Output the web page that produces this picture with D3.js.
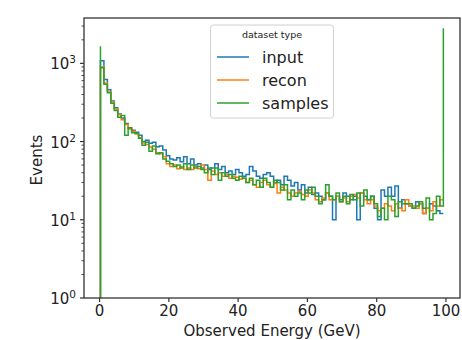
<!DOCTYPE html>
<html><head><meta charset="utf-8">
<script src="https://cdn.jsdelivr.net/npm/d3@7"></script>
<style>body{margin:0;background:#fff}svg{display:block;font-family:"DejaVu Sans",sans-serif}</style>
</head><body><svg id="c" width="462" height="340"></svg>
<script>
// bin left edges (GeV), width 1
const binEdges = [0.4,1.4,2.4,3.4,4.4,5.4,6.4,7.4,8.4,9.4,10.4,11.4,12.4,13.4,14.4,15.4,16.4,17.4,18.4,19.4,
20.4,21.4,22.4,23.4,24.4,25.4,26.4,27.4,28.4,29.4,30.4,31.4,32.4,33.4,34.4,35.4,36.4,37.4,38.4,39.4,
40.4,41.4,42.4,43.4,44.4,45.4,46.4,47.4,48.4,49.4,50.4,51.4,52.4,53.4,54.4,55.4,56.4,57.4,58.4,59.4,
60.4,61.4,62.4,63.4,64.4,65.4,66.4,67.4,68.4,69.4,70.4,71.4,72.4,73.4,74.4,75.4,76.4,77.4,78.4,79.4,
80.4,81.4,82.4,83.4,84.4,85.4,86.4,87.4,88.4,89.4,90.4,91.4,92.4,93.4,94.4,95.4,96.4,97.4,98.4,99.4];
const seriesNames = ["input","recon","samples"];
const inputCounts = [1080,620,460,330,270,225,200,170,150,140,132,120,100,104,95,98,86,88,78,66,
60,58,62,55,64,52,60,50,52,46,50,44,46,52,44,48,40,42,38,44,
40,36,38,48,42,36,34,38,40,36,30,32,28,36,32,27,30,24,28,22,
26,21,22,20,18,22,20,10,20,18,22,20,18,20,10,22,20,18,20,14,
10,24,20,26,20,27,14,18,16,15,14,17,16,12,14,16,15,13,12];
const reconCounts = [900,560,430,320,260,220,190,165,145,135,125,112,96,92,85,80,72,70,64,52,
48,50,45,48,44,46,44,48,45,50,44,32,42,38,40,36,38,34,36,35,
33,34,30,32,28,26,30,32,28,26,29,22,26,24,22,20,22,23,21,20,
24,22,18,17,19,22,18,18,20,17,19,17,20,21,19,22,18,16,18,15,
13,14,16,15,13,16,14,13,18,15,15,14,16,12,14,13,17,15,18];
const samplesCounts = [880,540,420,310,250,205,215,120,150,130,128,110,90,98,75,88,70,72,60,56,
52,48,50,46,52,44,50,46,48,44,40,46,38,46,32,40,36,38,34,32,
36,34,30,34,28,32,26,34,30,26,32,30,24,28,18,24,20,22,18,24,
22,26,20,16,18,28,20,18,22,17,20,16,21,18,22,15,24,18,20,16,
11,14,10,20,18,11,17,16,16,16,14,15,17,14,19,10,12,20,15];
const samplesSpikes = [1650, 2800]; // first and last edge spikes
const xTicks = [0,20,40,60,80,100];
const yTicks = [1,10,100,1000];
const colors = ["#1f77b4","#ff7f0e","#2ca02c"];

const svg = d3.select("#c");
const L=84,R=460,T=18,B=298;
const x = d3.scaleLinear().domain([-4.35,104.2]).range([L,R]);
const y = d3.scaleLog().domain([1,3800]).range([B,T]);

svg.append("defs").append("clipPath").attr("id","clip").append("rect")
  .attr("x",L).attr("y",T).attr("width",R-L).attr("height",B-T);

const line = d3.line().x(d=>x(d[0])).y(d=>y(d[1])).curve(d3.curveStepAfter);
const all = [inputCounts, reconCounts, samplesCounts];
const g = svg.append("g").attr("clip-path","url(#clip)");
all.forEach((counts,k)=>{
  const pts = [[binEdges[0],1]];
  if (k===2) pts.push([binEdges[0], samplesSpikes[0]]);
  counts.forEach((c,i)=>pts.push([binEdges[i],c]));
  const lastE = binEdges[counts.length];
  pts.push([lastE, counts[counts.length-1]]);
  if (k===2) pts.push([lastE, samplesSpikes[1]]);
  g.append("path").attr("d",line(pts)).attr("fill","none")
    .attr("stroke",colors[k]).attr("stroke-width",1.5).attr("stroke-linejoin","miter");
});

// axes
const xAxis = svg.append("g").attr("transform",`translate(0,${B})`)
  .call(d3.axisBottom(x).tickValues(xTicks).tickSize(4).tickPadding(3).tickFormat(d3.format("d")));
xAxis.select(".domain").remove();
xAxis.selectAll("text").attr("font-size",15).attr("fill","#222").attr("font-family","DejaVu Sans");
xAxis.selectAll("line").attr("stroke","#333").attr("stroke-width",1.2);

const yAxis = svg.append("g").attr("transform",`translate(${L},0)`);
const minor = [];
for (let dec=1; dec<=1000; dec*=10) for (let m=2;m<=9;m++){ if (dec*m<3800) minor.push(dec*m); }
yAxis.selectAll(".mn").data(minor).join("line")
  .attr("x1",-2.5).attr("x2",0).attr("y1",d=>y(d)).attr("y2",d=>y(d)).attr("stroke","#333").attr("stroke-width",0.9);
yAxis.selectAll(".mj").data(yTicks).join("line")
  .attr("x1",-4).attr("x2",0).attr("y1",d=>y(d)).attr("y2",d=>y(d)).attr("stroke","#333").attr("stroke-width",1.2);
const yl = yAxis.selectAll(".lb").data(yTicks).join("text")
  .attr("x",-8).attr("y",d=>y(d)+6).attr("text-anchor","end").attr("font-size",15).attr("fill","#222");
yl.append("tspan").text("10");
yl.append("tspan").attr("dy",-6).attr("font-size",10.5).text(d=>String(Math.round(Math.log10(d))));

// frame
svg.append("rect").attr("x",L).attr("y",T).attr("width",R-L).attr("height",B-T)
  .attr("fill","none").attr("stroke","#333").attr("stroke-width",1.3);

// labels
svg.append("text").attr("x",(L+R)/2 - 0).attr("y",336).attr("text-anchor","middle")
  .attr("font-size",15).attr("fill","#222").text("Observed Energy (GeV)");
svg.append("text").attr("transform","translate(42,160) rotate(-90)").attr("text-anchor","middle")
  .attr("font-size",15).attr("fill","#222").text("Events");

// legend
const lg = svg.append("g");
lg.append("rect").attr("x",210.5).attr("y",25).attr("width",123).attr("height",93).attr("rx",3)
  .attr("fill","#fff").attr("fill-opacity",0.8).attr("stroke","#d0d0d0").attr("stroke-width",1);
lg.append("text").attr("x",272).attr("y",38).attr("text-anchor","middle").attr("font-size",9.5)
  .attr("fill","#222").text("dataset type");
seriesNames.forEach((n,i)=>{
  const yy = 57 + i*23;
  lg.append("line").attr("x1",217).attr("x2",249).attr("y1",yy).attr("y2",yy)
    .attr("stroke",colors[i]).attr("stroke-width",1.5);
  lg.append("text").attr("x",262).attr("y",yy+5.5).attr("font-size",16).attr("fill","#222").text(n);
});
</script></body></html>
